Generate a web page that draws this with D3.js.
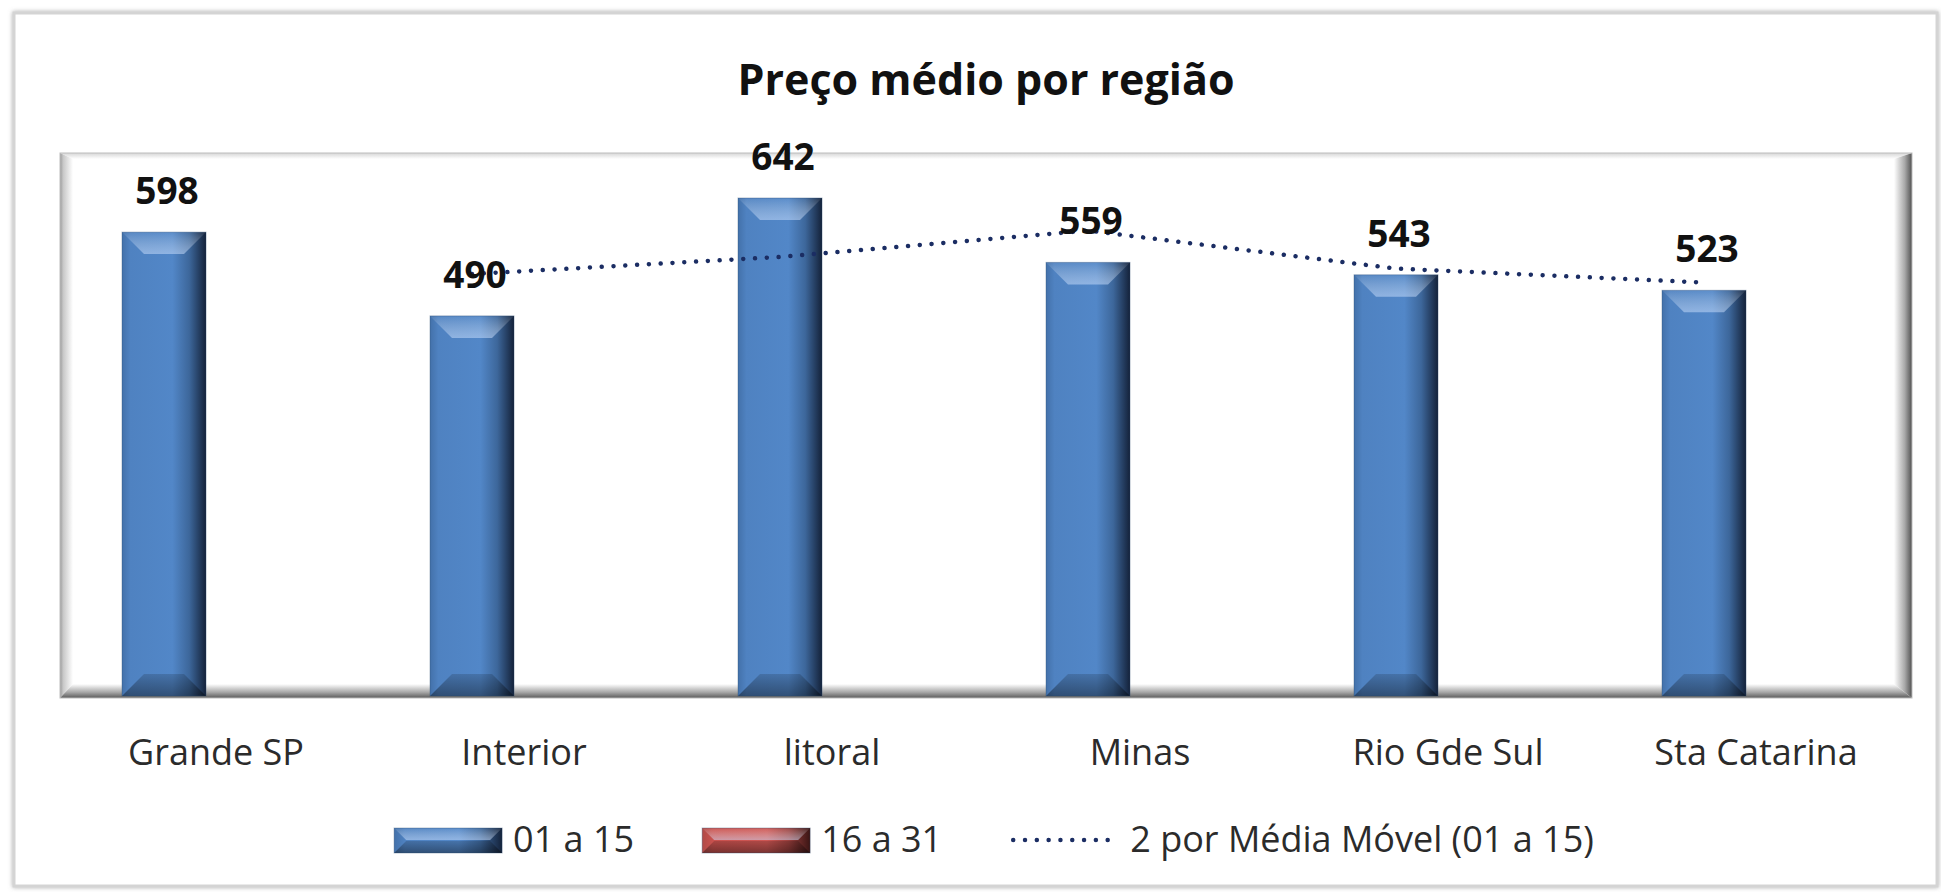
<!DOCTYPE html>
<html>
<head>
<meta charset="utf-8">
<script src="https://cdn.jsdelivr.net/npm/d3@7"></script>
<style>
  body { margin: 0; background: #ffffff; }
  svg { display: block; font-family: "Open Sans", "DejaVu Sans", sans-serif; }
</style>
</head>
<body>
<svg id="chart"></svg>
<script>
const categories = ["Grande SP", "Interior", "litoral", "Minas", "Rio Gde Sul", "Sta Catarina"];
const seriesNames = ["01 a 15", "16 a 31"];
const values0115 = [598, 490, 642, 559, 543, 523];
const values1631 = [null, null, null, null, null, null];
const movingAvg = [null, 544, 566, 600, 551, 533];
const maName = "2 por Média Móvel (01 a 15)";
const chartTitle = "Preço médio por região";

const width = 1941,
  height = 892;
const plot = { left: 60, right: 1912, top: 153, bottom: 698 };

const svg = d3.select("#chart").attr("width", width).attr("height", height);
const defs = svg.append("defs");

// gradients
function linGrad(id, x2, y2, stops) {
  const g = defs
    .append("linearGradient")
    .attr("id", id)
    .attr("x1", 0)
    .attr("y1", 0)
    .attr("x2", x2)
    .attr("y2", y2);
  stops.forEach((s) => {
    g.append("stop")
      .attr("offset", s[0])
      .attr("stop-color", s[1])
      .attr("stop-opacity", s[2] === undefined ? 1 : s[2]);
  });
}
linGrad("body-blue", 1, 0, [
  [0, "#4371aa"],
  [0.1, "#4f82c1"],
  [0.6, "#5287c8"],
  [0.8, "#3d679b"],
  [1, "#14223a"]
]);
linGrad("body-red", 1, 0, [
  [0, "#b04a47"],
  [0.1, "#c9514e"],
  [0.6, "#cd5653"],
  [0.8, "#9a3f3d"],
  [1, "#3a1514"]
]);
linGrad("bevel-top", 0, 1, [
  [0, "#ffffff", 0.05],
  [1, "#cfe2ff", 0.5]
]);
linGrad("bevel-bottom", 0, 1, [
  [0, "#000000", 0.15],
  [1, "#000000", 0.4]
]);
linGrad("frame-left", 1, 0, [
  [0, "#9a9a9a"],
  [0.25, "#c8c8c8"],
  [1, "#ffffff"]
]);
linGrad("frame-top", 0, 1, [
  [0, "#d6d6d6"],
  [1, "#ffffff"]
]);
linGrad("frame-right", 1, 0, [
  [0, "#ffffff"],
  [0.6, "#a8a8a8"],
  [1, "#505050"]
]);
linGrad("frame-bottom", 0, 1, [
  [0, "#ffffff"],
  [0.6, "#a5a5a5"],
  [1, "#5a5a5a"]
]);

const shadow = defs.append("filter").attr("id", "soft").attr("x", "-5%").attr("y", "-5%").attr("width", "110%").attr("height", "110%");
shadow
  .append("feDropShadow")
  .attr("dx", 0)
  .attr("dy", 0)
  .attr("stdDeviation", 2)
  .attr("flood-color", "#777")
  .attr("flood-opacity", 0.6);

// outer chart border
svg
  .append("rect")
  .attr("x", 14)
  .attr("y", 13)
  .attr("width", 1923)
  .attr("height", 873)
  .attr("fill", "#ffffff")
  .attr("stroke", "#d4d4d4")
  .attr("stroke-width", 3)
  .attr("filter", "url(#soft)");

// plot area with bevelled frame
const pb = { l: 13, t: 6, r: 18, b: 14 };
svg
  .append("rect")
  .attr("x", plot.left)
  .attr("y", plot.top)
  .attr("width", plot.right - plot.left)
  .attr("height", plot.bottom - plot.top)
  .attr("fill", "#ffffff");

const P = plot;
const framePieces = [
  { fill: "url(#frame-top)", pts: [[P.left, P.top], [P.right, P.top], [P.right - pb.r, P.top + pb.t], [P.left + pb.l, P.top + pb.t]] },
  { fill: "url(#frame-left)", pts: [[P.left, P.top], [P.left + pb.l, P.top + pb.t], [P.left + pb.l, P.bottom - pb.b], [P.left, P.bottom]] },
  { fill: "url(#frame-bottom)", pts: [[P.left, P.bottom], [P.left + pb.l, P.bottom - pb.b], [P.right - pb.r, P.bottom - pb.b], [P.right, P.bottom]] },
  { fill: "url(#frame-right)", pts: [[P.right, P.top], [P.right, P.bottom], [P.right - pb.r, P.bottom - pb.b], [P.right - pb.r, P.top + pb.t]] }
];
svg
  .append("g")
  .attr("class", "plot-frame")
  .selectAll("polygon")
  .data(framePieces)
  .enter()
  .append("polygon")
  .attr("points", (d) => d.pts.map((p) => p.join(",")).join(" "))
  .attr("fill", (d) => d.fill);
svg
  .append("rect")
  .attr("x", plot.left)
  .attr("y", plot.top)
  .attr("width", plot.right - plot.left)
  .attr("height", plot.bottom - plot.top)
  .attr("fill", "none")
  .attr("stroke", "#bdbdbd")
  .attr("stroke-width", 1);

// scales
const x = d3.scaleBand().domain(categories).range([62, 1910]).padding(0);
const xSeries = d3
  .scaleBand()
  .domain(seriesNames)
  .range([0, x.bandwidth()])
  .paddingInner(0.192)
  .paddingOuter(0.577);
const y = d3.scaleLinear().domain([0, 700]).range([696, 153]);

// bevelled bar
function bevelBar(g, bx, by, bw, bh, body, bevel) {
  const b = Math.min(bevel, bw / 2, bh / 2);
  g.append("rect")
    .attr("x", bx)
    .attr("y", by)
    .attr("width", bw)
    .attr("height", bh)
    .attr("fill", body);
  g.append("polygon")
    .attr("points", [[bx, by], [bx + bw, by], [bx + bw - b, by + b], [bx + b, by + b]].map((p) => p.join(",")).join(" "))
    .attr("fill", "url(#bevel-top)");
  g.append("polygon")
    .attr("points", [[bx, by + bh], [bx + bw, by + bh], [bx + bw - b, by + bh - b], [bx + b, by + bh - b]].map((p) => p.join(",")).join(" "))
    .attr("fill", "url(#bevel-bottom)");
  g.append("rect")
    .attr("x", bx)
    .attr("y", by)
    .attr("width", bw)
    .attr("height", bh)
    .attr("fill", "none")
    .attr("stroke", "#2c4a70")
    .attr("stroke-opacity", 0.35)
    .attr("stroke-width", 1);
}

const series = [
  { name: seriesNames[0], values: values0115, body: "url(#body-blue)" },
  { name: seriesNames[1], values: values1631, body: "url(#body-red)" }
];

const barsG = svg.append("g").attr("class", "bars");
series.forEach((s) => {
  s.values.forEach((v, i) => {
    if (v == null) return;
    const bx = x(categories[i]) + xSeries(s.name);
    bevelBar(barsG.append("g"), bx, y(v), xSeries.bandwidth(), y(0) - y(v), s.body, 22);
  });
});

// moving average trendline
const maPoints = movingAvg
  .map((v, i) => ({ cat: categories[i], v: v }))
  .filter((d) => d.v != null);
const line = d3
  .line()
  .x((d) => x(d.cat) + xSeries(seriesNames[0]) + xSeries.bandwidth() / 2)
  .y((d) => y(d.v));
svg
  .append("path")
  .datum(maPoints)
  .attr("d", line)
  .attr("fill", "none")
  .attr("stroke", "#1b2d63")
  .attr("stroke-width", 4.5)
  .attr("stroke-linecap", "round")
  .attr("stroke-dasharray", "0.01 11.8");

// data labels
svg
  .append("g")
  .attr("class", "labels")
  .selectAll("text")
  .data(values0115)
  .enter()
  .append("text")
  .attr("x", (d, i) => x(categories[i]) + xSeries(seriesNames[0]) + xSeries.bandwidth() / 2 + 3)
  .attr("y", (d) => y(d) - 28)
  .attr("text-anchor", "middle")
  .attr("font-size", 37)
  .attr("font-weight", "bold")
  .attr("fill", "#111111")
  .text((d) => d);

// category axis labels
svg
  .append("g")
  .attr("class", "x-labels")
  .selectAll("text")
  .data(categories)
  .enter()
  .append("text")
  .attr("x", (d) => x(d) + x.bandwidth() / 2)
  .attr("y", 765)
  .attr("text-anchor", "middle")
  .attr("font-size", 36)
  .attr("fill", "#2b2b2b")
  .text((d) => d);

// title
svg
  .append("text")
  .attr("x", 986)
  .attr("y", 95)
  .attr("text-anchor", "middle")
  .attr("font-size", 43)
  .attr("font-weight", "bold")
  .attr("fill", "#111111")
  .text(chartTitle);

// legend
const legend = svg.append("g").attr("class", "legend");
let cursor = 0;
const legendItems = [
  { kind: "bar", label: seriesNames[0], body: "url(#body-blue)" },
  { kind: "bar", label: seriesNames[1], body: "url(#body-red)" },
  { kind: "line", label: maName }
];
legendItems.forEach((item) => {
  const g = legend.append("g");
  if (item.kind === "bar") {
    bevelBar(g, cursor, -12, 108, 25, item.body, 12);
    cursor += 108 + 11;
  } else {
    g.append("line")
      .attr("x1", cursor + 3)
      .attr("x2", cursor + 103)
      .attr("y1", 0)
      .attr("y2", 0)
      .attr("stroke", "#1b2d63")
      .attr("stroke-width", 4.5)
      .attr("stroke-linecap", "round")
      .attr("stroke-dasharray", "0.01 11.8");
    cursor += 106 + 14;
  }
  const t = g
    .append("text")
    .attr("x", cursor)
    .attr("y", 12)
    .attr("font-size", 36)
    .attr("fill", "#2b2b2b")
    .text(item.label);
  cursor += t.node().getComputedTextLength() + 68;
});
const legendWidth = cursor - 68;
legend.attr("transform", `translate(${994 - legendWidth / 2},840)`);
</script>
</body>
</html>
